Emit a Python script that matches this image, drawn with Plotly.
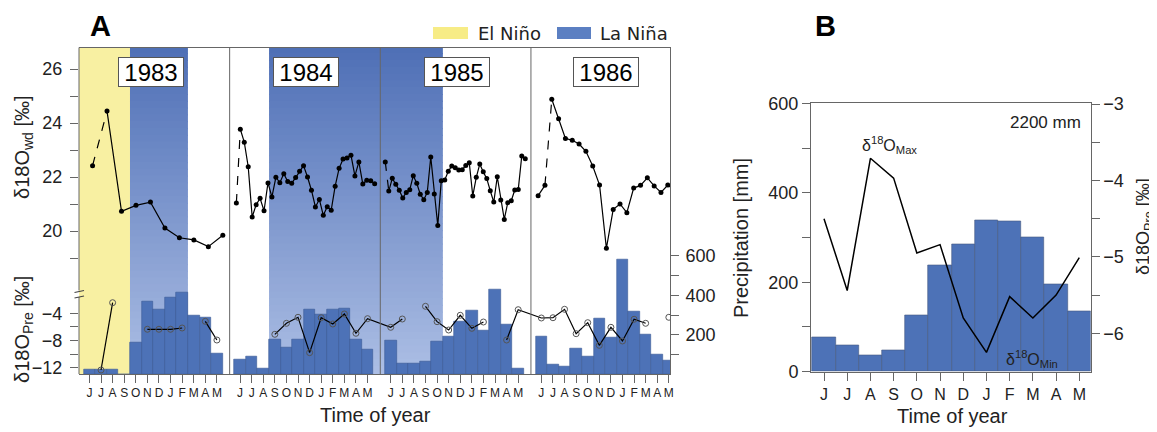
import plotly.graph_objects as go

W, H = 1157, 432
OFF = 8            # page body margin offset of the figure inside the browser window

# ---------------- data ----------------
MONTH_LABELS = ["J", "J", "A", "S", "O", "N", "D", "J", "F", "M", "A", "M"]
YEARS = ["1983", "1984", "1985", "1986"]

# delta18O of wood (per-mil), sampled through each growth year (June..May)
WD_1983 = [22.42, 24.44, 20.73, 20.95, 21.07, 20.11, 19.75, 19.67, 19.42, 19.84]
WD_1984 = [21.04, 23.77, 23.29, 22.38, 20.52, 20.97, 21.21, 20.75, 21.78, 21.26, 21.99, 21.79,
           22.12, 21.83, 21.77, 21.98, 22.21, 22.42, 22.00, 21.51, 20.89, 21.17, 20.58, 20.90,
           20.77, 21.66, 22.32, 22.67, 22.70, 22.81, 22.04, 22.56, 21.74, 21.88, 21.86, 21.75]
WD_1985 = [22.56, 21.48, 21.95, 21.73, 21.51, 21.22, 21.43, 21.53, 22.05, 21.77, 21.36, 21.16,
           21.43, 22.74, 21.37, 20.20, 21.86, 21.89, 22.21, 22.41, 22.34, 22.26, 22.27, 22.43,
           22.53, 21.30, 21.99, 22.48, 22.19, 21.94, 21.49, 21.07, 22.01, 21.15, 20.43, 21.05,
           21.12, 21.52, 21.54, 22.78, 22.68]
WD_1986 = [21.31, 21.69, 24.88, 24.16, 23.43, 23.36, 23.22, 22.95, 22.41, 21.70, 19.36, 20.80,
           21.00, 20.68, 21.59, 21.69, 21.97, 21.67, 21.43, 21.70, 21.51]
WD_SERIES = [WD_1983, WD_1984, WD_1985, WD_1986]
WD_START = [0.27, -0.32, -0.47, -0.28]     # time of first sample (months after June)
WD_STEP = [1.249, 0.341, 0.302, 0.589]     # sampling interval (months)
WD_DASHED = [0, 0, 0, 1]                   # dashed segment starts at this sample index

# monthly precipitation (mm), June..May
PRE_1983 = [22, 22, 22, 0, 162, 370, 328, 390, 412, 299, 289, 106]
PRE_1984 = [76, 88, 29, 177, 138, 176, 326, 304, 327, 334, 177, 125]
PRE_1985 = [172, 56, 54, 66, 167, 192, 267, 322, 224, 430, 250, 30]
PRE_1986 = [189, 51, 39, 132, 90, 283, 186, 579, 317, 199, 101, 69]
PRE_SERIES = [PRE_1983, PRE_1984, PRE_1985, PRE_1986]

# monthly delta18O of precipitation (per-mil), June..May
D18P_1983 = [None, -12.34, -2.44, None, None, -6.35, -6.35, -6.35, -6.16, None, -5.18, -7.93]
D18P_1984 = [None, None, None, -7.09, -5.47, -4.59, -9.79, -4.65, -5.57, -4.10, -6.94, -4.79]
D18P_1985 = [-6.06, -4.84, None, -2.97, -5.23, -6.46, -4.29, -6.21, -5.28, None, -7.93, -3.47]
D18P_1986 = [-4.69, -4.65, -3.41, -7.00, -5.38, -8.71, -6.06, -8.07, -4.88, -5.47, None, -4.59]
D18P_SERIES = [D18P_1983, D18P_1984, D18P_1985, D18P_1986]

# ENSO phases: (year index, month index) start .. end, inclusive
EL_NINO = [((0, 0), (0, 3))]
LA_NINA = [((0, 4), (0, 8)), ((1, 3), (2, 4))]

# panel B: mean seasonal cycle
B_MONTHS = ["J", "J", "A", "S", "O", "N", "D", "J", "F", "M", "A", "M"]
B_PRECIP = [78, 58, 36, 48, 127, 238, 285, 339, 337, 301, 196, 136]
B_D18O = [-4.50, -5.44, -3.71, -3.97, -4.95, -4.84, -5.80, -6.25, -5.52, -5.80, -5.50, -5.01]
B_TOTAL = "2200 mm"

# ---------------- layout helpers ----------------
FONT = "Liberation Sans, Arial, sans-serif"
LEG_FONT = "DejaVu Sans, Verdana, sans-serif"
AX_COL = "#666666"
BAR_COL = "#4d72b7"
SLOT = 13          # 12 months + 1 spacer per year
SLOT_PAD = 0.9
FW, FH = W - OFF, H - OFF


def pxx(x):
    return (x - OFF) / FW


def pxy(y):
    return 1 - (y - OFF) / FH


def lin_range(v1, p1, v2, p2, p_a, p_b):
    s = (v2 - v1) / (p2 - p1)
    return [v1 + (p_a - p1) * s, v1 + (p_b - p1) * s]


def mx(k, m):
    return k * SLOT + m


# panel A box (window pixels)
AL, AR, AT, AB = 79, 670, 47.5, 374
# panel B box (window pixels)
BL, BR, BT, BB = 811, 1090.7, 103.3, 371.7

fig = go.Figure()

# precipitation bars (panel A)
bx, by = [], []
for k, vals in enumerate(PRE_SERIES):
    for m, v in enumerate(vals):
        bx.append(mx(k, m))
        by.append(v)
fig.add_trace(go.Bar(x=bx, y=by, width=1.0, xaxis="x", yaxis="y",
                     marker=dict(color=BAR_COL, line=dict(color="#3b5a95", width=0.6)),
                     showlegend=False))

# delta18O precipitation (panel A)
px_, py_ = [], []
for k, vals in enumerate(D18P_SERIES):
    for m, v in enumerate(vals):
        px_.append(mx(k, m))
        py_.append(v)
fig.add_trace(go.Scatter(x=px_, y=py_, xaxis="x", yaxis="y2", mode="lines+markers",
                         connectgaps=False,
                         line=dict(color="black", width=1.2),
                         marker=dict(symbol="circle-open", size=6, color="#555555",
                                     line=dict(width=1, color="#555555")),
                         showlegend=False))

# delta18O wood (panel A)
for k, vals in enumerate(WD_SERIES):
    xs = [k * SLOT + WD_START[k] + WD_STEP[k] * i for i in range(len(vals))]
    d = WD_DASHED[k]
    fig.add_trace(go.Scatter(x=xs[d:d + 2], y=vals[d:d + 2], xaxis="x", yaxis="y3",
                             mode="lines", line=dict(color="black", width=1.2, dash="dash"),
                             showlegend=False))
    if d > 0:
        fig.add_trace(go.Scatter(x=xs[:d + 1], y=vals[:d + 1], xaxis="x", yaxis="y3",
                                 mode="lines", line=dict(color="black", width=1.2),
                                 showlegend=False))
    fig.add_trace(go.Scatter(x=xs[d + 1:], y=vals[d + 1:], xaxis="x", yaxis="y3",
                             mode="lines", line=dict(color="black", width=1.2),
                             showlegend=False))
    fig.add_trace(go.Scatter(x=xs, y=vals, xaxis="x", yaxis="y3", mode="markers",
                             marker=dict(color="black", size=5), showlegend=False))

# panel B
fig.add_trace(go.Bar(x=list(range(12)), y=B_PRECIP, width=1.0, xaxis="x2", yaxis="y4",
                     marker=dict(color=BAR_COL, line=dict(color="#44587f", width=0.6)),
                     showlegend=False))
fig.add_trace(go.Scatter(x=list(range(12)), y=B_D18O, xaxis="x2", yaxis="y5", mode="lines",
                         line=dict(color="black", width=1.5), showlegend=False))

# ---------------- shapes ----------------
shapes = []


def period_x(p):
    (k0, m0), (k1, m1) = p
    x0 = mx(k0, m0) - (SLOT_PAD if m0 == 0 else 0.5)
    x1 = mx(k1, m1) + 0.5
    return x0, x1


for p in EL_NINO:
    x0, x1 = period_x(p)
    shapes.append(dict(type="rect", xref="x", yref="paper", x0=x0, x1=x1,
                       y0=pxy(AB), y1=pxy(AT), fillcolor="#f8f0a2", line=dict(width=0),
                       layer="below"))

NB = 48
top_c = (78, 111, 182)
bot_c = (172, 190, 228)
for p in LA_NINA:
    x0, x1 = period_x(p)
    for i in range(NB):
        t = (i + 0.5) / NB
        c = tuple(int(round(top_c[j] + (bot_c[j] - top_c[j]) * t)) for j in range(3))
        ya = AT + (AB - AT) * i / NB
        yb = AT + (AB - AT) * (i + 1) / NB
        shapes.append(dict(type="rect", xref="x", yref="paper", x0=x0, x1=x1,
                           y0=pxy(yb), y1=pxy(max(AT, ya - 1.2)),
                           fillcolor="rgb(%d,%d,%d)" % c, line=dict(width=0), layer="below"))

# year dividers
for k in range(1, len(YEARS)):
    xd = k * SLOT - SLOT_PAD
    shapes.append(dict(type="line", xref="x", yref="paper", x0=xd, x1=xd,
                       y0=pxy(AB), y1=pxy(AT), line=dict(color="#666666", width=1)))

# left axis with break
shapes.append(dict(type="line", xref="paper", yref="paper", x0=pxx(AL), x1=pxx(AL),
                   y0=pxy(AT), y1=pxy(290.5), line=dict(color=AX_COL, width=1)))
shapes.append(dict(type="line", xref="paper", yref="paper", x0=pxx(AL), x1=pxx(AL),
                   y0=pxy(297), y1=pxy(AB), line=dict(color=AX_COL, width=1)))
for yb in (291.5, 297.0):
    shapes.append(dict(type="line", xref="paper", yref="paper", x0=pxx(74.5), x1=pxx(84),
                       y0=pxy(yb + 1), y1=pxy(yb - 1), line=dict(color="#444444", width=1.2)))

# legend boxes
shapes.append(dict(type="rect", xref="paper", yref="paper", x0=pxx(433), x1=pxx(468),
                   y0=pxy(39), y1=pxy(27), fillcolor="#f7ec86", line=dict(width=0)))
shapes.append(dict(type="rect", xref="paper", yref="paper", x0=pxx(557), x1=pxx(591),
                   y0=pxy(39), y1=pxy(27), fillcolor="#5b7fc2", line=dict(width=0)))

# ---------------- annotations ----------------
ann = []
YEAR_LABEL_POS = [5.35, 5.7, 5.7, 5.6]
for k, yl in enumerate(YEARS):
    ann.append(dict(x=k * SLOT + YEAR_LABEL_POS[k], y=pxy(71.5), xref="x", yref="paper",
                    text=yl, showarrow=False, font=dict(family=FONT, size=24, color="black"),
                    bgcolor="white", bordercolor="#555555", borderwidth=1, borderpad=1,
                    width=62, height=26, xanchor="center", yanchor="middle"))

ann += [
    dict(x=pxx(100), y=1, text="<b>A</b>", yanchor="top",
         font=dict(family=FONT, size=29, color="black")),
    dict(x=pxx(825), y=1, text="<b>B</b>", yanchor="top",
         font=dict(family=FONT, size=29, color="black")),
    dict(x=pxx(23), y=pxy(147), text="δ18O<sub>wd</sub> [‰]", textangle=-90,
         font=dict(family=FONT, size=20, color="#222")),
    dict(x=pxx(23), y=pxy(330), text="δ18O<sub>Pre</sub> [‰]", textangle=-90,
         font=dict(family=FONT, size=20, color="#222")),
    dict(x=pxx(375), y=pxy(415), text="Time of year", font=dict(family=FONT, size=20, color="#222")),
    dict(x=pxx(952), y=pxy(416), text="Time of year", font=dict(family=FONT, size=20, color="#222")),
    dict(x=pxx(741), y=pxy(238), text="Precipitation [mm]", textangle=-90,
         font=dict(family=FONT, size=20, color="#222")),
    dict(x=pxx(1144), y=pxy(227), text="δ18O<sub>Pre</sub> [‰]", textangle=-90,
         font=dict(family=FONT, size=18, color="#222")),
    dict(x=pxx(1083), y=pxy(122), text=B_TOTAL, xanchor="right",
         font=dict(family=FONT, size=17, color="#222")),
    dict(x=pxx(890), y=pxy(145), text="δ<sup>18</sup>O<sub>Max</sub>",
         font=dict(family=FONT, size=16, color="#222")),
    dict(x=pxx(1032), y=pxy(359), text="δ<sup>18</sup>O<sub>Min</sub>",
         font=dict(family=FONT, size=16, color="#222")),
    dict(x=pxx(476), y=pxy(33), text="El Niño", xanchor="left",
         font=dict(family=LEG_FONT, size=18, color="#222")),
    dict(x=pxx(598), y=pxy(33), text="La Niña", xanchor="left",
         font=dict(family=LEG_FONT, size=18, color="#222")),
]
for a in ann:
    a.setdefault("xref", "paper")
    a.setdefault("yref", "paper")
    a.setdefault("showarrow", False)
    a.setdefault("xanchor", "center")
    a.setdefault("yanchor", "middle")

# ---------------- axes ----------------
tick_font = dict(family=FONT, size=18, color="#222")
common = dict(showgrid=False, zeroline=False, ticks="outside", ticklen=8, tickwidth=1,
              tickcolor=AX_COL, linecolor=AX_COL, linewidth=1, automargin=False)

xa_vals = [mx(k, m) for k in range(len(YEARS)) for m in range(12)]
xa_text = MONTH_LABELS * len(YEARS)

x_range_A = [-SLOT_PAD, (len(YEARS) - 1) * SLOT + 12 - SLOT_PAD]

fig.update_layout(
    width=FW, height=FH, margin=dict(l=0, r=0, t=0, b=0, pad=0, autoexpand=False),
    paper_bgcolor="white", plot_bgcolor="rgba(0,0,0,0)",
    bargap=0, showlegend=False,
    shapes=shapes, annotations=ann,
    xaxis=dict(domain=[pxx(AL), pxx(AR)], range=x_range_A, anchor="y",
               tickmode="array", tickvals=xa_vals, ticktext=xa_text,
               tickfont=dict(family=FONT, size=12, color="#222"),
               showline=True, mirror=True, **common),
    yaxis=dict(domain=[pxy(AB), pxy(AT)], anchor="x", side="right",
               range=lin_range(0, 374.3, 600, 255.7, AB, AT),
               tickmode="array", tickvals=[0, 200, 400, 600],
               minor=dict(tickmode="array", tickvals=[100, 300, 500], ticks="outside",
                          ticklen=8, tickcolor=AX_COL),
               tickfont=tick_font, showline=True, ticklabelstandoff=3, **common),
    yaxis2=dict(overlaying="y", anchor="x", side="left",
                range=lin_range(-4, 313.3, -12, 367.7, AB, AT),
                tickmode="array", tickvals=[-12, -8, -4],
                minor=dict(tickmode="array", tickvals=[-10, -6], ticks="outside",
                           ticklen=8, tickcolor=AX_COL),
                tickfont=tick_font, showline=False, ticklabelstandoff=4, **common),
    yaxis3=dict(overlaying="y", anchor="x", side="left",
                range=lin_range(20, 231, 26, 69, AB, AT),
                tickmode="array", tickvals=[20, 22, 24, 26],
                minor=dict(tickmode="array", tickvals=[19, 21, 23, 25], ticks="outside",
                           ticklen=8, tickcolor=AX_COL),
                tickfont=tick_font, showline=False, ticklabelstandoff=4, **common),
    xaxis2=dict(domain=[pxx(BL), pxx(BR)], anchor="y4",
                range=lin_range(0, 824, 11, 1079.3, BL, BR),
                tickmode="array", tickvals=list(range(12)), ticktext=B_MONTHS,
                tickfont=dict(family=FONT, size=16, color="#222"),
                showline=True, mirror=True, **common),
    yaxis4=dict(domain=[pxy(BB), pxy(BT)], anchor="x2", side="left", range=[0, 600],
                tickmode="array", tickvals=[0, 200, 400, 600],
                minor=dict(tickmode="array", tickvals=[100, 300, 500], ticks="outside",
                           ticklen=8, tickcolor=AX_COL),
                tickfont=tick_font, showline=True, mirror=True, **common),
    yaxis5=dict(overlaying="y4", anchor="x2", side="right",
                range=lin_range(-3, 104, -6, 333.3, BB, BT),
                tickmode="array", tickvals=[-6, -5, -4, -3],
                minor=dict(tickmode="array", tickvals=[-5.5, -4.5, -3.5], ticks="outside",
                           ticklen=8, tickcolor=AX_COL),
                tickfont=tick_font, showline=False, **common),
)

fig.write_html("out.html")
